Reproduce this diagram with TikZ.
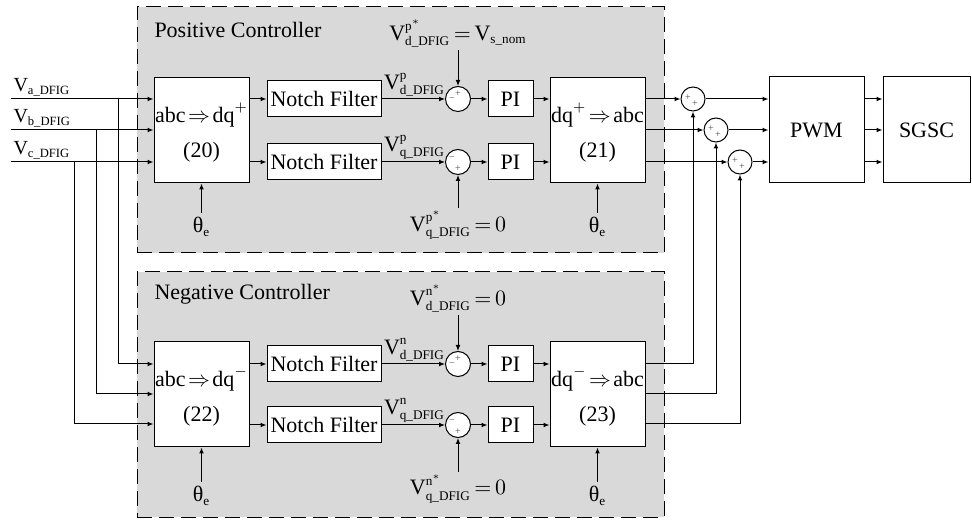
\documentclass[tikz,border=0pt]{standalone}
\usepackage{amsmath}
\usepackage{fontspec}
\setmainfont{Liberation Serif}
\DeclareMathSizes{11}{11}{6.6}{5}
\DeclareMathSizes{10}{10}{6.3}{5}
\usetikzlibrary{arrows.meta,calc}
\definecolor{panel}{HTML}{D9D9D9}
\newcommand{\imp}{\mkern2mu{\Rightarrow}\mkern2mu}
\newcommand{\eqs}{\mkern3mu{=}\mkern3mu}
\begin{document}
\begin{tikzpicture}[x=0.5pt,y=-0.5pt,line width=0.5pt,
  font=\fontsize{11}{13}\selectfont,
  arr/.style={-{Latex[length=3pt,width=2.4pt]}},
  blk/.style={draw,fill=white,inner sep=0pt},
  sumc/.style={draw,fill=white,circle,minimum size=12.5pt,inner sep=0pt},
  outc/.style={draw,fill=white,circle,minimum size=12pt,inner sep=0pt},
  panelbox/.style={draw,fill=panel,dash pattern=on 7.5pt off 3.5pt,minimum width=263.5pt,inner sep=0pt},
  sgn/.style={font=\fontsize{5}{6}\selectfont,inner sep=0pt,text=black!70},
  txt/.style={inner sep=0pt},
  inlab/.style={anchor=south west,inner sep=1pt,font=\fontsize{10}{12}\selectfont},
  vlab/.style={anchor=south west,inner sep=1pt}]

\useasboundingbox (0,0) rectangle (972,522);

% panels
\node[panelbox,minimum height=123pt] (PP) at (400.5,130) {};
\node[panelbox,minimum height=122.5pt] (NP) at (400.5,394.5) {};
\node[txt,anchor=base west] (tp) at (154,38) {Positive Controller};
\node[txt,anchor=base west] (tn) at (154,300) {Negative Controller};

% positive controller blocks
\node[blk,minimum width=47.5pt,minimum height=52.5pt] (A1) at (201.5,130.5) {};
\node[txt] (A1t) at (201.5,115) {$\text{abc}\imp\text{dq}^{+}$};
\node[txt] (A1n) at (201.5,152) {(20)};
\node[blk,minimum width=57pt,minimum height=18pt] (N1) at (324,99) {Notch Filter};
\node[blk,minimum width=57pt,minimum height=18pt] (N2) at (324,162) {Notch Filter};
\node[sumc] (S1) at (458,99) {};
\node[sumc] (S2) at (458,162) {};
\node[blk,minimum width=22.5pt,minimum height=18pt] (P1) at (510.5,99) {PI};
\node[blk,minimum width=22.5pt,minimum height=18pt] (P2) at (510.5,162) {PI};
\node[blk,minimum width=47.5pt,minimum height=52.5pt] (D1) at (597.5,130.5) {};
\node[txt] (D1t) at (597.5,115) {$\text{dq}^{+}\imp\text{abc}$};
\node[txt] (D1n) at (597.5,152) {(21)};

% negative controller blocks
\node[blk,minimum width=47.5pt,minimum height=52.5pt] (A2) at (201.5,394.5) {};
\node[txt] (A2t) at (201.5,379) {$\text{abc}\imp\text{dq}^{-}$};
\node[txt] (A2n) at (201.5,416) {(22)};
\node[blk,minimum width=57pt,minimum height=18pt] (N3) at (324,364) {Notch Filter};
\node[blk,minimum width=57pt,minimum height=18pt] (N4) at (324,425) {Notch Filter};
\node[sumc] (S3) at (458,364) {};
\node[sumc] (S4) at (458,425) {};
\node[blk,minimum width=22.5pt,minimum height=18pt] (P3) at (510.5,364) {PI};
\node[blk,minimum width=22.5pt,minimum height=18pt] (P4) at (510.5,425) {PI};
\node[blk,minimum width=47.5pt,minimum height=52.5pt] (D2) at (597.5,394.5) {};
\node[txt] (D2t) at (597.5,379) {$\text{dq}^{-}\imp\text{abc}$};
\node[txt] (D2n) at (597.5,416) {(23)};

% output side
\node[outc] (O1) at (693,99) {};
\node[outc] (O2) at (716,130) {};
\node[outc] (O3) at (740,162) {};
\node[blk,minimum width=47.5pt,minimum height=53pt] (PWM) at (816.5,130) {PWM};
\node[blk,minimum width=43.5pt,minimum height=53pt] (SG) at (926.5,130) {SGSC};

% signs
\node[sgn] at ($(S1)+(-6,1)$) {−};
\node[sgn] at ($(S1)+(0,-5)$) {+};
\node[sgn] at ($(S2)+(-6,-3)$) {−};
\node[sgn] at ($(S2)+(0,7)$) {+};
\node[sgn] at ($(S3)+(-6,1)$) {−};
\node[sgn] at ($(S3)+(0,-5)$) {+};
\node[sgn] at ($(S4)+(-6,-3)$) {−};
\node[sgn] at ($(S4)+(0,7)$) {+};
\foreach \o in {O1,O2,O3}{
  \node[sgn] at ($(\o)+(-5,-1)$) {+};
  \node[sgn] at ($(\o)+(2,5)$) {+};
}

% input coordinates
\coordinate (ina) at (11,99);
\coordinate (inb) at (11,130);
\coordinate (inc) at (11,162);
\coordinate (ta) at (118,99);
\coordinate (tb) at (96,130);
\coordinate (tc) at (74,162);
\coordinate (ra) at (0,364);
\coordinate (rb) at (0,394);
\coordinate (rc) at (0,424);
\node[inlab] at (ina) {$\text{V}_{\text{a\_DFIG}}$};
\node[inlab] at (inb) {$\text{V}_{\text{b\_DFIG}}$};
\node[inlab] at (inc) {$\text{V}_{\text{c\_DFIG}}$};

\draw[arr] (ina) -- (ina -| A1.west);
\draw[arr] (inb) -- (inb -| A1.west);
\draw[arr] (inc) -- (inc -| A1.west);
\draw[arr] (ta) |- (ra -| A2.west);
\draw[arr] (tb) |- (rb -| A2.west);
\draw[arr] (tc) |- (rc -| A2.west);

% positive chain
\draw[arr] (A1.east |- N1) -- (N1);
\draw[arr] (A1.east |- N2) -- (N2);
\draw[arr] (N1) -- (S1);
\draw[arr] (N2) -- (S2);
\draw[arr] (S1) -- (P1);
\draw[arr] (S2) -- (P2);
\draw[arr] (P1) -- (P1 -| D1.west);
\draw[arr] (P2) -- (P2 -| D1.west);
\node[vlab] at (N1.east) {$\text{V}^{\text{p}}_{\text{d\_DFIG}}$};
\node[vlab] at (N2.east) {$\text{V}^{\text{p}}_{\text{q\_DFIG}}$};

% negative chain
\draw[arr] (A2.east |- N3) -- (N3);
\draw[arr] (A2.east |- N4) -- (N4);
\draw[arr] (N3) -- (S3);
\draw[arr] (N4) -- (S4);
\draw[arr] (S3) -- (P3);
\draw[arr] (S4) -- (P4);
\draw[arr] (P3) -- (P3 -| D2.west);
\draw[arr] (P4) -- (P4 -| D2.west);
\node[vlab] at (N3.east) {$\text{V}^{\text{n}}_{\text{d\_DFIG}}$};
\node[vlab] at (N4.east) {$\text{V}^{\text{n}}_{\text{q\_DFIG}}$};

% references
\coordinate (rf1) at (458,50);
\coordinate (rf2) at (458,208);
\coordinate (rf3) at (458,315);
\coordinate (rf4) at (458,472);
\draw[arr] (rf1) -- (S1);
\draw[arr] (rf2) -- (S2);
\draw[arr] (rf3) -- (S3);
\draw[arr] (rf4) -- (S4);
\node[anchor=south,inner sep=1pt] at (rf1) {$\text{V}^{\text{p}^{*}}_{\text{d\_DFIG}}\eqs\text{V}_{\text{s\_nom}}$};
\node[anchor=north,inner sep=1pt] at (rf2) {$\text{V}^{\text{p}^{*}}_{\text{q\_DFIG}}\eqs0$};
\node[anchor=south,inner sep=1pt] at (rf3) {$\text{V}^{\text{n}^{*}}_{\text{d\_DFIG}}\eqs0$};
\node[anchor=north,inner sep=1pt] at (rf4) {$\text{V}^{\text{n}^{*}}_{\text{q\_DFIG}}\eqs0$};

% theta inputs
\coordinate (th1) at (201.5,213);
\coordinate (th2) at (597.5,213);
\coordinate (th3) at (201.5,482);
\coordinate (th4) at (597.5,482);
\foreach \t/\b in {th1/A1,th2/D1,th3/A2,th4/D2}{
  \draw[arr] (\t) -- (\b);
  \node[anchor=north,inner sep=2pt] at (\t) {$\text{θ}_{\text{e}}$};
}

% outputs
\draw[arr] (D1.east |- O1) -- (O1);
\draw[arr] (D1.east |- O2) -- (O2);
\draw[arr] (D1.east |- O3) -- (O3);
\draw[arr] (D2.east |- ra) -| (O1);
\draw[arr] (D2.east |- rb) -| (O2);
\draw[arr] (D2.east |- rc) -| (O3);
\draw[arr] (O1) -- (O1 -| PWM.west);
\draw[arr] (O2) -- (O2 -| PWM.west);
\draw[arr] (O3) -- (O3 -| PWM.west);
\draw[arr] (PWM.east |- O1) -- (O1 -| SG.west);
\draw[arr] (PWM.east |- O2) -- (O2 -| SG.west);
\draw[arr] (PWM.east |- O3) -- (O3 -| SG.west);
\end{tikzpicture}
\end{document}
